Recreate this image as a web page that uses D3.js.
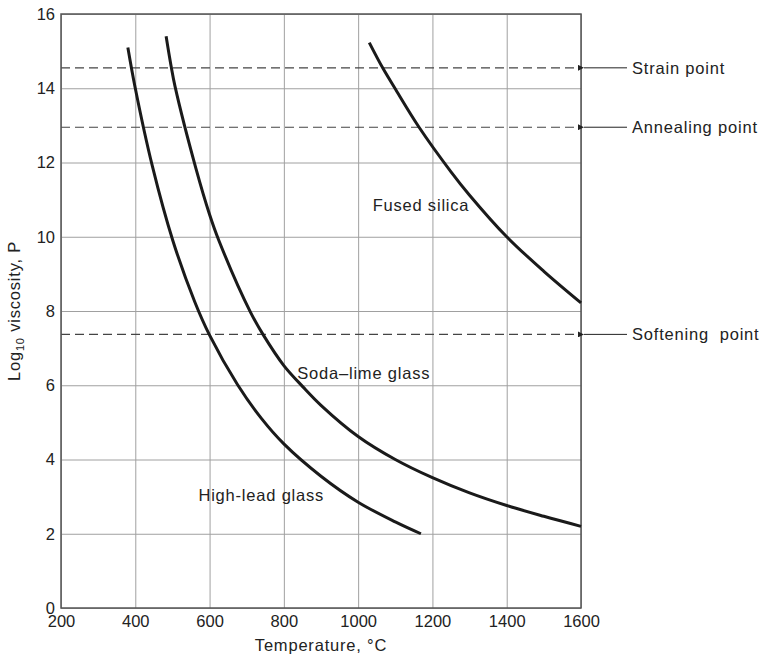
<!DOCTYPE html>
<html>
<head>
<meta charset="utf-8">
<script src="https://cdn.jsdelivr.net/npm/d3@7"></script>
<style>
  body { margin: 0; background: #fff; }
  text { font-family: 'Liberation Sans', Arial, sans-serif; fill: #222; }
  .label { letter-spacing: 0.8px; }
</style>
</head>
<body>
<div id="chart"></div>
<script>
// data
const highLeadTemp = [380, 400, 446, 501, 560, 600, 675, 740, 800, 900, 1000, 1100, 1169]
const highLeadVisc = [15.1, 14.0, 11.9, 9.9, 8.25, 7.35, 6.02, 5.1, 4.42, 3.55, 2.85, 2.32, 2.0]

const sodaLimeTemp = [483, 496, 507, 563, 600, 625, 710, 745, 800, 852, 900, 1000, 1100, 1200, 1300, 1400, 1500, 1600]
const sodaLimeVisc = [15.4, 14.62, 14.05, 11.85, 10.6, 9.9, 7.97, 7.35, 6.53, 5.95, 5.46, 4.62, 4.0, 3.51, 3.1, 2.76, 2.47, 2.2]

const silicaTemp = [1030, 1066, 1099, 1164, 1250, 1300, 1400, 1500, 1600]
const silicaVisc = [15.23, 14.55, 14.0, 12.95, 11.75, 11.12, 10.0, 9.07, 8.22]

const curveLabels = ['High-lead glass', 'Soda\u2013lime glass', 'Fused silica']
const labelTemp = [570, 836, 1039]
const labelVisc = [2.88, 6.16, 10.7]

const refNames = ['Strain point', 'Annealing point', 'Softening\u00a0 point']
const refValues = [14.55, 12.95, 7.37]

const xTicks = [200, 400, 600, 800, 1000, 1200, 1400, 1600]
const yTicks = [0, 2, 4, 6, 8, 10, 12, 14, 16]

const drawChart = () => {
  const width = 770
  const height = 656
  const margin = { top: 14, right: 189, bottom: 48, left: 61 }
  const innerWidth = width - margin.left - margin.right
  const innerHeight = height - margin.top - margin.bottom

  const svg = d3.select('#chart')
    .append('svg')
    .attr('width', width)
    .attr('height', height)

  const canvas = svg.append('g')
    .attr('transform', `translate(${margin.left}, ${margin.top})`)

  const xScale = d3.scaleLinear().domain([200, 1600]).range([0, innerWidth])
  const yScale = d3.scaleLinear().domain([0, 16]).range([innerHeight, 0])

  // grid + tick labels
  const xAxis = d3.axisBottom(xScale)
    .tickValues(xTicks)
    .tickFormat(d3.format('d'))
    .tickSize(-innerHeight)
    .tickPadding(7)
  const yAxis = d3.axisLeft(yScale)
    .tickValues(yTicks)
    .tickFormat(d3.format('d'))
    .tickSize(-innerWidth)
    .tickPadding(6)

  const xAxisGroup = canvas.append('g')
    .attr('transform', `translate(0, ${innerHeight})`)
    .call(xAxis)
  const yAxisGroup = canvas.append('g').call(yAxis)

  ;[xAxisGroup, yAxisGroup].forEach(g => {
    g.select('.domain').remove()
    g.selectAll('line').attr('stroke', '#a0a0a0').attr('stroke-width', 1)
    g.selectAll('text')
      .attr('font-size', '16.5px')
      .attr('font-family', "'Liberation Sans', Arial, sans-serif")
      .attr('fill', '#222')
  })

  // dashed reference lines
  canvas.selectAll('.ref-line')
    .data(refValues)
    .join('line')
    .attr('class', 'ref-line')
    .attr('x1', 0)
    .attr('x2', innerWidth)
    .attr('y1', d => yScale(d))
    .attr('y2', d => yScale(d))
    .attr('stroke', '#444')
    .attr('stroke-width', 1.2)
    .attr('stroke-dasharray', '9,5')

  // frame
  canvas.append('rect')
    .attr('width', innerWidth)
    .attr('height', innerHeight)
    .attr('fill', 'none')
    .attr('stroke', '#555')
    .attr('stroke-width', 1.5)

  // arrows pointing at the reference lines
  svg.append('defs').append('marker')
    .attr('id', 'arrow')
    .attr('viewBox', '0 0 10 10')
    .attr('refX', 0)
    .attr('refY', 5)
    .attr('markerWidth', 8)
    .attr('markerHeight', 6)
    .attr('markerUnits', 'userSpaceOnUse')
    .attr('orient', 'auto')
    .append('path')
    .attr('d', 'M10,0 L0,5 L10,10 z')
    .attr('fill', '#222')

  canvas.selectAll('.ref-arrow')
    .data(refValues)
    .join('line')
    .attr('class', 'ref-arrow')
    .attr('x1', innerWidth + 46)
    .attr('x2', innerWidth + 3)
    .attr('y1', d => yScale(d))
    .attr('y2', d => yScale(d))
    .attr('stroke', '#222')
    .attr('stroke-width', 1)
    .attr('marker-end', 'url(#arrow)')

  canvas.selectAll('.ref-label')
    .data(refNames)
    .join('text')
    .attr('class', 'ref-label label')
    .attr('x', innerWidth + 51)
    .attr('y', (d, i) => yScale(refValues[i]))
    .attr('dy', '0.35em')
    .attr('font-size', '16.5px')
    .text(d => d)

  // curves
  const line = d3.line()
    .x(d => xScale(d[0]))
    .y(d => yScale(d[1]))
    .curve(d3.curveCatmullRom.alpha(0.5))

  const series = [
    d3.zip(highLeadTemp, highLeadVisc),
    d3.zip(sodaLimeTemp, sodaLimeVisc),
    d3.zip(silicaTemp, silicaVisc),
  ]

  canvas.selectAll('.curve')
    .data(series)
    .join('path')
    .attr('class', 'curve')
    .attr('d', line)
    .attr('fill', 'none')
    .attr('stroke', '#1a1a1a')
    .attr('stroke-width', 3)

  canvas.selectAll('.curve-label')
    .data(curveLabels)
    .join('text')
    .attr('class', 'curve-label label')
    .attr('x', (d, i) => xScale(labelTemp[i]))
    .attr('y', (d, i) => yScale(labelVisc[i]))
    .attr('font-size', '16.5px')
    .text(d => d)

  // axis titles
  canvas.append('text')
    .attr('class', 'label')
    .attr('x', innerWidth / 2)
    .attr('y', innerHeight + 43)
    .attr('text-anchor', 'middle')
    .attr('font-size', '16.5px')
    .text('Temperature, \u00b0C')

  const ylabel = canvas.append('text')
    .attr('class', 'label')
    .attr('transform', `translate(${-41}, ${innerHeight / 2}) rotate(-90)`)
    .attr('text-anchor', 'middle')
    .attr('font-size', '16.5px')
  ylabel.append('tspan').text('Log')
  ylabel.append('tspan').attr('font-size', '11px').attr('dy', 4).text('10')
  ylabel.append('tspan').attr('dy', -4).text(' viscosity, P')
}

drawChart()
</script>
</body>
</html>
